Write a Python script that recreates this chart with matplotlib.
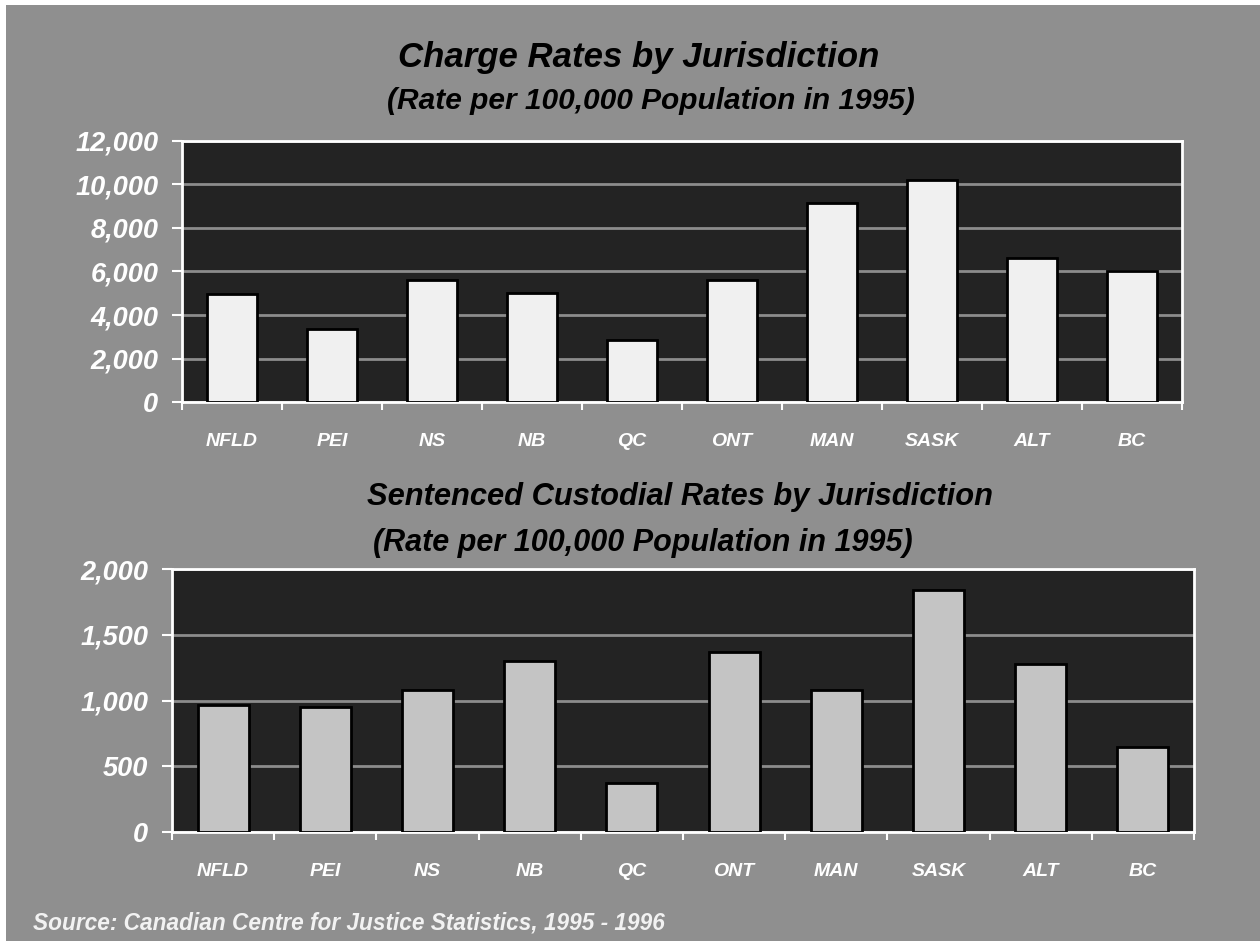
import matplotlib
matplotlib.use("Agg")
import matplotlib.pyplot as plt
from matplotlib.ticker import FuncFormatter, FixedLocator
from matplotlib.patches import Rectangle

# 数据
jurisdictions = ["NFLD", "PEI", "NS", "NB", "QC", "ONT", "MAN", "SASK", "ALT", "BC"]
charge_rates = [4950, 3360, 5610, 5030, 2830, 5610, 9160, 10200, 6620, 6020]
custodial_rates = [967, 954, 1081, 1301, 373, 1372, 1081, 1839, 1276, 647]

charge_ticks = [0, 2000, 4000, 6000, 8000, 10000, 12000]
custodial_ticks = [0, 500, 1000, 1500, 2000]

BG = "#8f8f8f"
PANEL = "#232323"
FONT = "Liberation Sans"

plt.rcParams["font.family"] = [FONT, "DejaVu Sans"]

fig = plt.figure(figsize=(12.6, 9.41), dpi=100)
fig.patch.set_facecolor("white")
# 灰色背景（左上留白边）
fig.patches.append(Rectangle((6 / 1260, 0), 1, 1 - 5 / 941, transform=fig.transFigure,
                             facecolor=BG, edgecolor="none", zorder=-10))


def draw_panel(rect, values, ticks, bar_color):
    ax = fig.add_axes(rect)
    ax.set_facecolor(PANEL)
    x = list(range(len(jurisdictions)))
    ax.bar(x, values, width=0.5, color=bar_color, edgecolor="black", linewidth=2, zorder=3)
    ax.set_xlim(-0.5, len(jurisdictions) - 0.5)
    ax.set_ylim(ticks[0], ticks[-1])
    ax.set_yticks(ticks)
    ax.yaxis.set_major_formatter(FuncFormatter(lambda v, p: f"{int(v):,}"))
    ax.grid(axis="y", color="#8c8c8c", linewidth=2, zorder=1)
    ax.set_axisbelow(True)

    # 类别标签在中间，刻度线在分隔处
    ax.set_xticks(x)
    ax.set_xticklabels(jurisdictions)
    ax.xaxis.set_minor_locator(FixedLocator([i - 0.5 for i in range(len(jurisdictions) + 1)]))
    ax.tick_params(axis="x", which="major", length=0, pad=22, colors="white", labelsize=14)
    ax.tick_params(axis="x", which="minor", length=6, width=1.5, color="white", direction="out")
    ax.tick_params(axis="y", length=7, width=1.5, color="white", direction="out",
                   pad=10, labelsize=19.5, labelcolor="white")
    for lab in ax.get_xticklabels() + ax.get_yticklabels():
        lab.set_fontweight("bold")
        lab.set_fontstyle("italic")
    for s in ax.spines.values():
        s.set_color("white")
        s.set_linewidth(2)
    return ax


def title_text(x, y, s, size):
    fig.text(x, y, s, ha="center", va="center", fontsize=size,
             fontweight="bold", fontstyle="italic", color="black")


draw_panel([182 / 1260, 1 - 402 / 941, 1000 / 1260, 261 / 941], charge_rates, charge_ticks, "#f0f0f0")
title_text(639 / 1260, 1 - 58 / 941, "Charge Rates by Jurisdiction", 25)
title_text(651 / 1260, 1 - 101 / 941, "(Rate per 100,000 Population in 1995)", 21.5)

draw_panel([172 / 1260, 1 - 832 / 941, 1022 / 1260, 263 / 941], custodial_rates, custodial_ticks, "#c4c4c4")
title_text(680 / 1260, 1 - 497 / 941, "Sentenced Custodial Rates by Jurisdiction", 22.2)
title_text(643 / 1260, 1 - 543 / 941, "(Rate per 100,000 Population in 1995)", 22)

fig.text(33 / 1260, 1 - 923 / 941, "Source: Canadian Centre for Justice Statistics, 1995 - 1996",
         ha="left", va="center", fontsize=16.3, fontweight="bold", fontstyle="italic",
         color="#f2f2f2")

fig.savefig("out.png", dpi=100, facecolor=fig.get_facecolor())
